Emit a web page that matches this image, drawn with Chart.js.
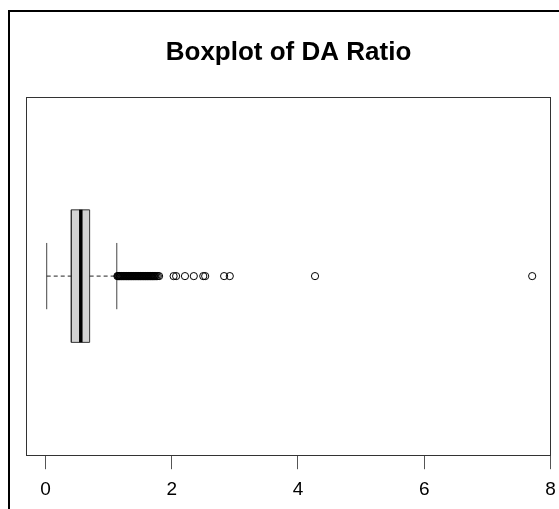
<!DOCTYPE html>
<html>
<head>
<meta charset="utf-8">
<script src="https://cdn.jsdelivr.net/npm/chart.js@4/dist/chart.umd.min.js"></script>
<style>
  html, body { margin: 0; padding: 0; background: #fff; }
  #wrap { position: relative; width: 559px; height: 509px; overflow: hidden; }
  #frame { position: absolute; left: 8px; top: 10px; width: 800px; height: 800px;
           border-left: 2px solid #000; border-top: 2px solid #000; }
  #c { position: absolute; left: 0; top: 0; }
</style>
</head>
<body>
<div id="wrap">
  <div id="frame"></div>
  <canvas id="c" width="559" height="509"></canvas>
</div>
<script>
// ---- data ----
const categories = ['DA Ratio'];
// [lower whisker, Q1, median, Q3, upper whisker]
const boxStats = [0.02, 0.41, 0.56, 0.70, 1.13];
const outliers = [
  1.14, 1.15, 1.16, 1.17, 1.18, 1.19, 1.20, 1.21, 1.22, 1.23,
  1.24, 1.25, 1.26, 1.27, 1.28, 1.29, 1.30, 1.31, 1.32, 1.33,
  1.34, 1.35, 1.36, 1.37, 1.38, 1.39, 1.40, 1.41, 1.42, 1.43,
  1.44, 1.45, 1.46, 1.47, 1.48, 1.49, 1.50, 1.51, 1.52, 1.53,
  1.54, 1.55, 1.56, 1.57, 1.58, 1.59, 1.60, 1.61, 1.62, 1.63,
  1.64, 1.65, 1.66, 1.67, 1.68, 1.69, 1.70, 1.71, 1.72, 1.73,
  1.74, 1.76, 1.78, 1.80,
  2.03, 2.07, 2.21, 2.35, 2.50, 2.53, 2.83, 2.92, 4.27, 7.71
];
const xTicks = [0, 2, 4, 6, 8];
const titleText = 'Boxplot of DA Ratio';

// ---- styling / geometry (not data) ----
const FONT = "'Liberation Sans', Arial, Helvetica, sans-serif";
const POS = 1;          // vertical position of the single box
const HALF_BOX = 0.37;  // half box thickness in y units
const HALF_CAP = 0.185; // half staple length
const [wLo, q1, med, q3, wHi] = boxStats;
const lo = POS - HALF_BOX, hi = POS + HALF_BOX;

const lineDS = (data, extra) => Object.assign({
  data, showLine: true, pointRadius: 0, pointHoverRadius: 0,
  borderColor: '#000', borderWidth: 1, fill: false, tension: 0, order: 0
}, extra);

const datasets = [
  lineDS([{x: q1, y: lo}, {x: q3, y: lo}], {fill: '+1', backgroundColor: '#d3d3d3', borderWidth: 0, label: categories[0], order: 10}),
  lineDS([{x: q1, y: hi}, {x: q3, y: hi}], {borderWidth: 0, order: 10}),
  lineDS([{x: q1, y: lo}, {x: q3, y: lo}, {x: q3, y: hi}, {x: q1, y: hi}, {x: q1, y: lo}], {borderColor: '#333', order: 5}),
  lineDS([{x: med, y: lo}, {x: med, y: hi}], {borderWidth: 3.5, borderCapStyle: 'butt', order: 1}),
  lineDS([{x: wLo, y: POS}, {x: q1, y: POS}], {borderDash: [4, 3], borderColor: '#222'}),
  lineDS([{x: q3, y: POS}, {x: wHi, y: POS}], {borderDash: [4, 3], borderColor: '#222'}),
  lineDS([{x: wLo, y: POS - HALF_CAP}, {x: wLo, y: POS + HALF_CAP}], {borderColor: '#444'}),
  lineDS([{x: wHi, y: POS - HALF_CAP}, {x: wHi, y: POS + HALF_CAP}], {borderColor: '#444'}),
  {
    data: outliers.map(v => ({x: v, y: POS})), order: -1,
    showLine: false, pointStyle: 'circle', pointRadius: 3.6, pointHoverRadius: 3.6,
    pointBorderWidth: 1, pointBorderColor: '#000', pointBackgroundColor: 'rgba(0,0,0,0)'
  }
];

const plotBox = {
  id: 'plotBox',
  afterDatasetsDraw(chart) {
    const a = chart.chartArea, ctx = chart.ctx;
    ctx.save();
    ctx.strokeStyle = '#333';
    ctx.lineWidth = 1;
    ctx.strokeRect(Math.round(a.left) + 0.5, Math.round(a.top) + 0.5,
                   Math.round(a.right - a.left) - 1, Math.round(a.bottom - a.top));
    ctx.restore();
  }
};

new Chart(document.getElementById('c'), {
  type: 'scatter',
  data: { datasets },
  plugins: [plotBox],
  options: {
    responsive: false,
    animation: false,
    events: [],
    layout: { padding: { left: 26, right: 8, top: 0, bottom: -2 } },
    plugins: {
      legend: { display: false },
      tooltip: { enabled: false },
      title: {
        display: true, text: titleText, color: '#000',
        font: { family: FONT, size: 26, weight: 'bold', lineHeight: 1.2 },
        padding: { top: 37, bottom: 28.8 }
      }
    },
    scales: {
      x: {
        type: 'linear', min: -0.308, max: 8.008,
        afterBuildTicks: s => { s.ticks = xTicks.map(v => ({value: v})); },
        afterFit: s => { s.paddingLeft = 0; s.paddingRight = 0; },
        grid: { display: true, drawOnChartArea: false, drawTicks: true, tickLength: 14, tickColor: '#555', color: '#555' },
        border: { display: false },
        ticks: { color: '#000', padding: 9.5, maxRotation: 0, font: { family: FONT, size: 19 },
                 callback: v => String(v) }
      },
      y: { type: 'linear', min: 0, max: 2, display: false }
    }
  }
});
</script>
</body>
</html>
